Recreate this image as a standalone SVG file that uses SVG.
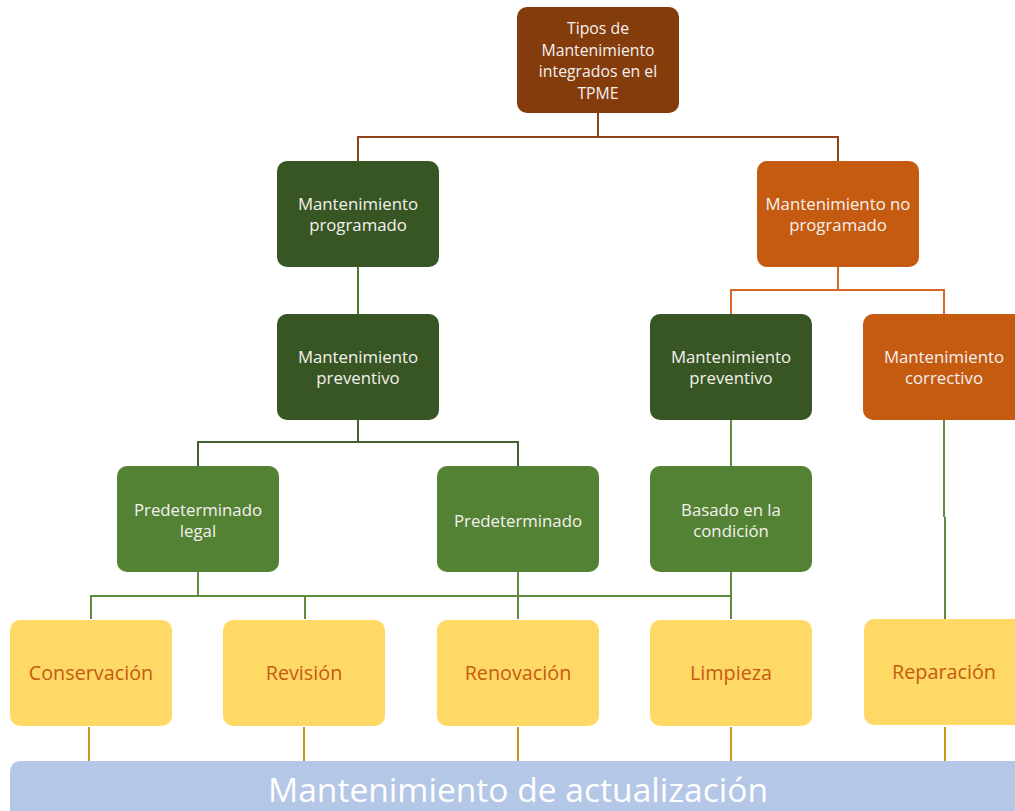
<svg xmlns="http://www.w3.org/2000/svg" width="1015" height="811" viewBox="0 0 1015 811">
<style>
.box{stroke:none}
.brown{fill:#843C0C}
.dg{fill:#375623}
.g{fill:#548235}
.or{fill:#C55A11}
.ye{fill:#FFD966}
.t{font-family:"Open Sans","Liberation Sans",sans-serif;font-size:16.8px;fill:#F4F1EE;text-anchor:middle;dominant-baseline:central}
.tt{font-size:15.8px}
.ty{font-family:"Open Sans","Liberation Sans",sans-serif;font-size:19.8px;fill:#C55A11;text-anchor:middle;dominant-baseline:central}
.tb{font-family:"Open Sans","Liberation Sans",sans-serif;font-size:33.6px;fill:#FFFFFF;text-anchor:middle;dominant-baseline:central}
.c{fill:none;stroke-width:2}
</style>
<rect width="1015" height="811" fill="#FFFFFF"/>
<g id="connectors">
<path class="c" stroke="#8E4418" d="M598 113V137M358 161V137H838V161"/>
<path class="c" stroke="#4A7A2E" d="M358 267V314"/>
<path class="c" stroke="#D4692A" d="M838 267V290M731 314V290H944V314"/>
<path class="c" stroke="#3F632A" d="M358 420V442M198 466V442H518V466"/>
<path class="c" stroke="#5E8C40" d="M731 420V466"/>
<path class="c" stroke="#5E8C40" d="M944 420V517M945 517V619"/>
<path class="c" stroke="#5E8C40" d="M198 572V596M91 619V596H731M305 596V619M518 572V619M731 572V619"/>
<path class="c" stroke="#C49A1A" d="M89 727V761M304 727V761M518 727V761M731 727V761M945 727V761"/>
</g>
<g id="n-tipos"><rect class="box brown" x="517" y="7" width="162" height="106" rx="10"/>
<text class="t tt" x="598" y="28">Tipos de</text><text class="t tt" x="598" y="49.5">Mantenimiento</text><text class="t tt" x="598" y="71">integrados en el</text><text class="t tt" x="598" y="92.5">TPME</text></g>
<g id="n-programado"><rect class="box dg" x="277" y="161" width="162" height="106" rx="10"/>
<text class="t" x="358" y="203">Mantenimiento</text><text class="t" x="358" y="224">programado</text></g>
<g id="n-noprogramado"><rect class="box or" x="757" y="161" width="162" height="106" rx="10"/>
<text class="t" x="838" y="203">Mantenimiento  no</text><text class="t" x="838" y="224">programado</text></g>
<g id="n-preventivo1"><rect class="box dg" x="277" y="314" width="162" height="106" rx="10"/>
<text class="t" x="358" y="356">Mantenimiento</text><text class="t" x="358" y="377">preventivo</text></g>
<g id="n-preventivo2"><rect class="box dg" x="650" y="314" width="162" height="106" rx="10"/>
<text class="t" x="731" y="356">Mantenimiento</text><text class="t" x="731" y="377">preventivo</text></g>
<g id="n-correctivo"><rect class="box or" x="863" y="314" width="170" height="106" rx="10"/>
<text class="t" x="944" y="356">Mantenimiento</text><text class="t" x="944" y="377">correctivo</text></g>
<g id="n-predlegal"><rect class="box g" x="117" y="466" width="162" height="106" rx="10"/>
<text class="t" x="198" y="509">Predeterminado</text><text class="t" x="198" y="530">legal</text></g>
<g id="n-pred"><rect class="box g" x="437" y="466" width="162" height="106" rx="10"/>
<text class="t" x="518" y="520">Predeterminado</text></g>
<g id="n-basado"><rect class="box g" x="650" y="466" width="162" height="106" rx="10"/>
<text class="t" x="731" y="509">Basado en la</text><text class="t" x="731" y="530">condición</text></g>
<g id="n-conservacion"><rect class="box ye" x="10" y="620" width="162" height="106" rx="10"/>
<text class="ty" x="91" y="672">Conservación</text></g>
<g id="n-revision"><rect class="box ye" x="223" y="620" width="162" height="106" rx="10"/>
<text class="ty" x="304" y="672">Revisión</text></g>
<g id="n-renovacion"><rect class="box ye" x="437" y="620" width="162" height="106" rx="10"/>
<text class="ty" x="518" y="672">Renovación</text></g>
<g id="n-limpieza"><rect class="box ye" x="650" y="620" width="162" height="106" rx="10"/>
<text class="ty" x="731" y="672">Limpieza</text></g>
<g id="n-reparacion"><rect class="box ye" x="864" y="619" width="170" height="106" rx="10"/>
<text class="ty" x="944" y="671">Reparación</text></g>
<g id="n-actualizacion"><rect class="box" fill="#B4C7E7" x="10" y="761" width="1030" height="70" rx="10"/>
<text class="tb" x="518" y="789">Mantenimiento de actualización</text></g>
</svg>
